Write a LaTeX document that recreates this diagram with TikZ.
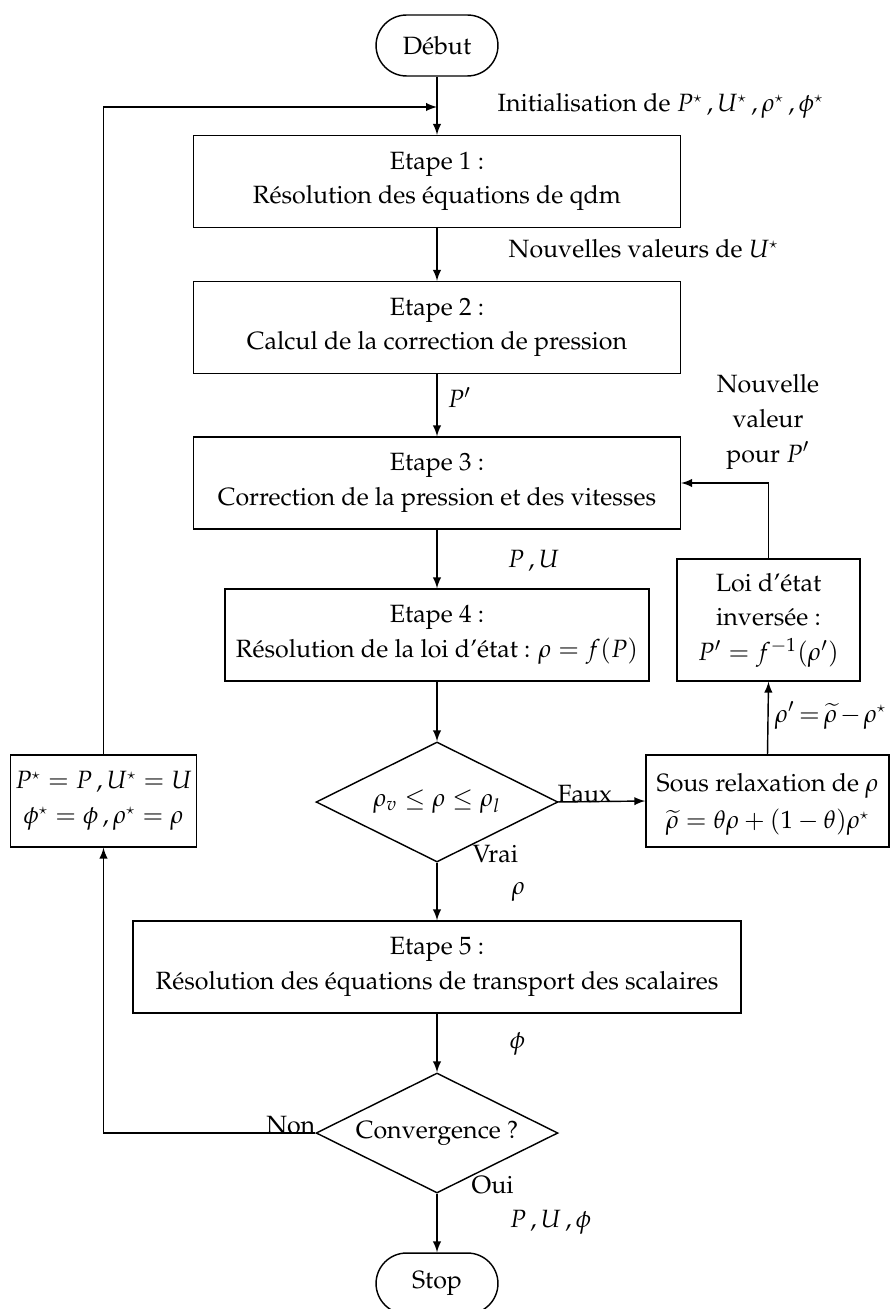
\documentclass[tikz,border=0pt]{standalone}
\usepackage[T1]{fontenc}
\usepackage{mathpazo}
\usetikzlibrary{shapes,positioning,calc,arrows}
\newcommand{\etoile}{^{\scriptscriptstyle\star}}

\begin{document}
\begin{tikzpicture}[
      x=0.42pt, y=-0.42pt,
      every node/.style = {font=\fontsize{10.5}{14.5}\selectfont},
      etape/.style = {draw, rectangle, align=center, minimum height=38.6pt, inner sep=2pt},
      terminal/.style = {draw, rectangle, rounded corners=12.8pt, minimum width=51.2pt, minimum height=25.6pt},
      test/.style = {draw, diamond, aspect=2, inner sep=0pt, minimum width=101.6pt, minimum height=50.4pt},
      lbl/.style = {anchor=base west, inner sep=0pt},
      >=latex, line width=0.6pt
      ]
      \useasboundingbox (0,0) rectangle (892,1309);

      % colonne principale
      \node[terminal] (debut) at (437,45.5) {D\'ebut};
      \node[etape, minimum width=204.5pt] (e1) at (437,181.5) {Etape 1 :\\R\'esolution des \'equations de qdm};
      \node[etape, minimum width=204.5pt] (e2) at (437,327.5) {Etape 2 :\\Calcul de la correction de pression};
      \node[etape, minimum width=204.5pt] (e3) at (437,483) {Etape 3 :\\Correction de la pression et des vitesses};
      \node[etape, minimum width=178.1pt] (e4) at (437,635) {Etape 4 :\\R\'esolution de la loi d'\'etat : $\rho = f(P)$};
      \node[test] (test1) at (437,802) {$\rho_v \leq \rho \leq \rho_l$};
      \node[etape, minimum width=255.4pt] (e5) at (437,967) {Etape 5 :\\R\'esolution des \'equations de transport des scalaires};
      \node[test] (test2) at (437,1133) {Convergence ?};
      \node[terminal] (stop) at (437,1283.5) {Stop};

      % branches laterales
      \node[etape, minimum width=76.9pt] (maj) at (103.5,801) {$P\etoile = P \,, U\etoile = U$\\$\phi\etoile = \phi \,, \rho\etoile = \rho$};
      \node[etape, minimum width=102.1pt, text depth=0pt] (relax) at (767.5,801) {Sous relaxation de $\rho$\\[1pt]$\widetilde{\rho} = \theta\rho + (1-\theta)\rho\etoile$};
      \node[etape, minimum width=76.9pt, minimum height=51.2pt] (inv) at (768.5,620) {Loi d'\'etat\\invers\'ee :\\$P' = f^{-1}(\rho')$};

      \coordinate (init) at (437,107);

      % etiquettes
      \node[lbl] (linit) at (497,112) {Initialisation de $P\etoile \,, U\etoile \,, \rho\etoile \,, \phi\etoile$};
      \node[lbl] (lnouv) at (508,258) {Nouvelles valeurs de $U\etoile$};
      \node[lbl] (lpp) at (447,408) {$P'$};
      \node[lbl] (lpu) at (507,567) {$P \,, U$};
      \node[align=center, inner sep=0pt] (lnvp) at (768,422) {Nouvelle\\valeur\\pour $P'$};
      \node[lbl] (lfaux) at (557,802) {Faux};
      \node[lbl] (lvrai) at (472,862) {Vrai};
      \node[lbl] (lrho) at (511,894) {$\rho$};
      \node[lbl] (lrhop) at (774,722) {$\medmuskip=2mu\thickmuskip=3mu \rho' = \widetilde{\rho} - \rho\etoile$};
      \node[lbl] (lphi) at (509,1048) {$\phi$};
      \node[anchor=base east, inner sep=0pt] (lnon) at (316,1133) {Non};
      \node[lbl] (loui) at (471,1193) {Oui};
      \node[lbl] (lpuphi) at (509,1227) {$P \,, U \,, \phi$};

      % liaisons
      \draw[->] (debut) -- (e1);
      \draw[->] (maj.north) |- (init);
      \draw[->] (e1) -- (e2);
      \draw[->] (e2) -- (e3);
      \draw[->] (e3) -- (e4);
      \draw[->] (e4) -- (test1);
      \draw[->] (test1.east) -- (relax.west);
      \draw[->] (relax.north) -- (inv.south);
      \draw[->] (inv.north) |- (e3.east);
      \draw[->] (test1.south) -- (e5);
      \draw[->] (e5) -- (test2);
      \draw[->] (test2.west) -| (maj.south);
      \draw[->] (test2.south) -- (stop);
\end{tikzpicture}
\end{document}
